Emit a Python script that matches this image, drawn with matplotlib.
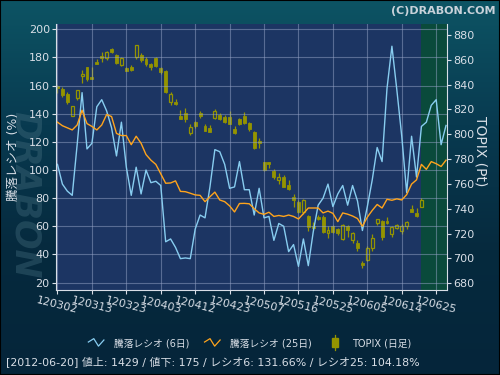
import numpy as np
import matplotlib
matplotlib.use('Agg')
import matplotlib.pyplot as plt
from matplotlib.lines import Line2D
from matplotlib.patches import Rectangle
from matplotlib.legend_handler import HandlerBase
from matplotlib.colors import LinearSegmentedColormap

plt.rcParams['font.family'] = ['DejaVu Sans', 'Noto Sans CJK JP']

# x ticks every 7 trading days
date_labels = ['120302', '120313', '120323', '120403', '120412', '120423',
               '120507', '120516', '120525', '120605', '120614', '120625']

# 騰落レシオ (6日)
ratio6 = [104, 90, 85, 82, 118, 155, 115, 119, 145, 150,
          142, 130, 110, 134, 102, 82, 102, 83, 100, 91,
          92, 89, 49, 51, 45, 37, 37.5, 37, 58, 68,
          66, 88, 114.5, 113, 104, 87, 88, 106, 86, 86,
          68, 87, 66, 67, 50, 62, 60, 42, 47, 31.5,
          51, 32, 56, 75, 80, 90, 74, 83, 89, 75,
          89, 78, 57, 74, 93, 116, 106, 158, 188, 157,
          124, 84, 124, 95, 131, 134, 146, 150, 118, 131.66]

# 騰落レシオ (25日)
ratio25 = [134, 131.5, 130, 128.5, 132, 142.5, 133, 131, 128.5, 132,
           139.5, 138, 126, 124.5, 124.5, 118, 124, 119, 111, 107,
           104, 97.3, 90.6, 90.8, 92.3, 84.8, 84.6, 83.5, 82.3, 82,
           77.5, 81, 84.3, 78.7, 77.5, 74.5, 70.2, 76.2, 76.3, 76,
           72.5, 69.5, 68.5, 70, 67, 67.7, 67, 68, 67, 65.2,
           69, 73, 73, 73, 69.5, 70.8, 69.2, 63.3, 69.5, 68.6,
           67.3, 65.5, 60, 66.5, 71.3, 75.5, 73, 79.2, 78.5, 79.5,
           78.7, 82.5, 90, 93, 104, 100.5, 106, 104.5, 102.5, 107]

# TOPIX daily candles
topix_open = [839, 836.5, 832.2, 815, 829, 846.7, 854, 846.2, 858.5, 863.1,
              861.2, 868.7, 863.9, 855.8, 853.2, 854.2, 862, 863.9, 860.7, 856.6,
              861.7, 853.2, 851, 826.3, 826, 815, 817, 801.3, 810, 817,
              806.7, 805.4, 812.9, 815.3, 814.2, 814.2, 804, 812.3, 814.8, 809.4,
              801.6, 794.9, 777.4, 777.4, 770.7, 763.2, 765.9, 759.2, 749.8, 745.8,
              737.7, 734.2, 726.2, 733.7, 733.7, 720.3, 726.2, 723.5, 716, 725.7,
              714.6, 712.7, 696.6, 698.8, 708, 728.8, 730.2, 730.5, 719.7, 724.8,
              721.9, 725.7, 739.6, 736.9, 741.7]
topix_close = [837, 831.7, 826.3, 822.8, 835.7, 848.8, 844.3, 844.8, 856.4, 861.5,
               866, 866.6, 857.7, 861.2, 851.3, 851.5, 871.7, 859.9, 856.6, 854,
               855, 850.5, 833.8, 832.2, 824.4, 812.6, 812.3, 806.2, 806.7, 814.8,
               803, 802.1, 819.1, 812.3, 810.2, 808.3, 801.3, 808.3, 808.9, 804,
               788.7, 792.8, 771.3, 776, 765.4, 765.9, 757.9, 755.7, 747.1, 737.7,
               747.1, 725.1, 724.3, 731.5, 721.6, 722.6, 721.6, 720.8, 726.7, 723,
               720.8, 708.2, 694.8, 708.5, 716.1, 731.5, 717.6, 728.3, 725.1, 726.7,
               725.7, 729.3, 737.7, 734.2, 747.1]
topix_high = [840, 837.8, 834.4, 823, 836, 851.9, 854.5, 854.5, 860.4, 866.6,
              867.5, 869.8, 864.4, 862.6, 854.5, 855.6, 872, 865.2, 862, 857.7,
              862.6, 854.5, 851.8, 834.4, 828.5, 819.6, 821.5, 808.3, 811, 818.8,
              808.3, 807.2, 820.1, 817, 815.3, 819.1, 806.7, 812.9, 818.3, 810,
              802.7, 796.8, 778, 777.5, 771.8, 768.6, 767.2, 763.2, 752, 747.1,
              748, 735, 729.7, 735, 735, 725.7, 727, 724.3, 727.5, 727,
              721.3, 714.4, 698.2, 709.6, 720, 732, 731, 733.7, 726.2, 728,
              727.3, 730.5, 743.2, 740.6, 748.4]
topix_low = [833, 830.3, 824.4, 815, 828, 841.6, 843, 844.8, 856.4, 858.3,
             860, 865.8, 857, 855.3, 851.3, 851.3, 861, 858.5, 855, 851.8,
             854.5, 848.6, 833, 823.4, 823.4, 812.6, 810.2, 799.7, 805, 813.2,
             803, 802, 812, 811.5, 809.4, 808.3, 800.3, 807.5, 808.3, 803,
             788.2, 788.7, 770.7, 772.6, 763.8, 760.2, 757.3, 755, 741, 736.4,
             736, 722.4, 723, 731, 720.3, 716.2, 720.3, 718.9, 714.6, 717.6,
             712.7, 706.3, 692, 697.6, 706, 726.7, 715, 727.8, 717, 723.5,
             720, 723.5, 737, 733.1, 741]

footer = '[2012-06-20] 値上: 1429 / 値下: 175 / レシオ6: 131.66% / レシオ25: 104.18%'

TXT = '#d8dee6'
OLIVE = '#949400'
PLOT_BG = '#1c3563'
BLUE = '#88cdf0'
ORANGE = '#ffa41c'


class ZigzagHandler(HandlerBase):
    def create_artists(self, legend, orig_handle, xdescent, ydescent,
                       width, height, fontsize, trans):
        xs = np.array([0.0, 0.35, 0.65, 1.0]) * width - xdescent
        ys = np.array([0.6, 1.1, 0.0, 0.9]) * height - ydescent
        ln = Line2D(xs, ys, color=orig_handle.get_color(), lw=0.9)
        ln.set_transform(trans)
        return [ln]


class CandleHandler(HandlerBase):
    def create_artists(self, legend, orig_handle, xdescent, ydescent,
                       width, height, fontsize, trans):
        cx = width / 2 - xdescent
        w = 1.6 * height / 2
        wick = Line2D([cx, cx], [-0.6 * height - ydescent, 1.6 * height - ydescent],
                      color=OLIVE, lw=0.9)
        body = Rectangle((cx - w / 2, -0.2 * height - ydescent), w, 1.4 * height,
                         facecolor=OLIVE, edgecolor=OLIVE)
        wick.set_transform(trans)
        body.set_transform(trans)
        return [wick, body]


fig = plt.figure(figsize=(5, 3.75), dpi=100)

# background gradient
bg = fig.add_axes([0, 0, 1, 1])
cmap = LinearSegmentedColormap.from_list('bg', ['#0d5464', '#083a50', '#062a3e', '#05253a'])
bg.imshow(np.linspace(0, 1, 256).reshape(-1, 1), aspect='auto', cmap=cmap, extent=[0, 1, 0, 1])
bg.axis('off')
# faint watermark
bg.text(0.05, 0.48, 'DRABON', rotation=-90, fontsize=25, fontweight='bold',
        fontstyle='italic', color='#4d7686', alpha=0.35, ha='center', va='center',
        transform=bg.transAxes)

ax = fig.add_axes([0.112, 0.227, 0.782, 0.709])
ax2 = ax.twinx()
ax.set_zorder(ax2.get_zorder() + 1)
ax.patch.set_visible(False)
ax2.patch.set_visible(True)
ax2.set_facecolor(PLOT_BG)

# highlighted recent period
ax2.axvspan(73.9, 80, color='#0a4a3b', lw=0, zorder=0)

# candles
o = np.array(topix_open)
c = np.array(topix_close)
hi = np.array(topix_high)
lo = np.array(topix_low)
x = np.arange(len(o))
top = np.maximum(o, c)
bot = np.minimum(o, c)
up = c > o
ax2.vlines(x, top, hi, color=OLIVE, lw=0.9)
ax2.vlines(x, lo, bot, color=OLIVE, lw=0.9)
ax2.bar(x[~up], (top - bot)[~up], bottom=bot[~up], width=0.6,
        color=OLIVE, edgecolor=OLIVE, lw=0.6)
ax2.bar(x[up], (top - bot)[up], bottom=bot[up], width=0.6,
        facecolor='none', edgecolor=OLIVE, lw=0.9)

# ratio lines
xl = np.arange(len(ratio6))
l6, = ax.plot(xl, ratio6, color=BLUE, lw=1)
l25, = ax.plot(xl, ratio25, color=ORANGE, lw=1)

ax.set_xlim(-0.3, 79.2)
ax.set_ylim(14.8, 203.8)
ax2.set_ylim(674.6, 888.9)

ax.set_yticks(range(20, 201, 20))
ax2.set_yticks(range(680, 881, 20))
ax.set_xticks(range(0, 78, 7))
ax.set_xticklabels(date_labels, rotation=-14, ha='center')
ax.grid(True, color='#95a3c6', lw=0.8, alpha=0.5)

ax.tick_params(axis='both', colors=TXT, labelsize=8, length=3, width=0.8, pad=1.5)
ax.tick_params(axis='x', labelsize=8, pad=1)
ax2.tick_params(axis='y', colors=TXT, labelsize=8, length=3, width=0.8, pad=1.5)

for sp in ['top', 'right']:
    ax.spines[sp].set_visible(False)
for sp in ['top', 'left', 'bottom']:
    ax2.spines[sp].set_visible(False)
for sp in ['left', 'bottom']:
    ax.spines[sp].set_color(TXT)
ax2.spines['right'].set_color(TXT)

ax.set_ylabel('騰落レシオ (%)', fontsize=9, color=TXT, ha='center', va='center')
ax.yaxis.set_label_coords(-0.108, 0.5)
ax2.set_ylabel('TOPIX (Pt)', fontsize=10, color=TXT, rotation=-90, ha='center', va='center')
ax2.yaxis.set_label_coords(1.085, 0.52)

candle_proxy = Rectangle((0, 0), 1, 1, color=OLIVE)
fig.legend([l6, l25, candle_proxy],
           ['騰落レシオ (6日)', '騰落レシオ (25日)', 'TOPIX (日足)'],
           loc='center', bbox_to_anchor=(0.5, 0.085), ncol=3, frameon=False,
           fontsize=7, labelcolor=TXT, handlelength=1.6, columnspacing=1.6,
           handletextpad=1.0,
           handler_map={l6: ZigzagHandler(), l25: ZigzagHandler(),
                        candle_proxy: CandleHandler()})

fig.text(0.012, 0.035, footer, fontsize=7.9, color=TXT, ha='left', va='center')
fig.text(0.992, 0.985, '(C)DRABON.COM', fontsize=8, fontweight='bold',
         color='#c9d2da', ha='right', va='top')

fig.patches.append(Rectangle((0, 0), 1, 1, transform=fig.transFigure, fill=False,
                             edgecolor='#000000', lw=1.5))

fig.savefig('out.png', dpi=100)
